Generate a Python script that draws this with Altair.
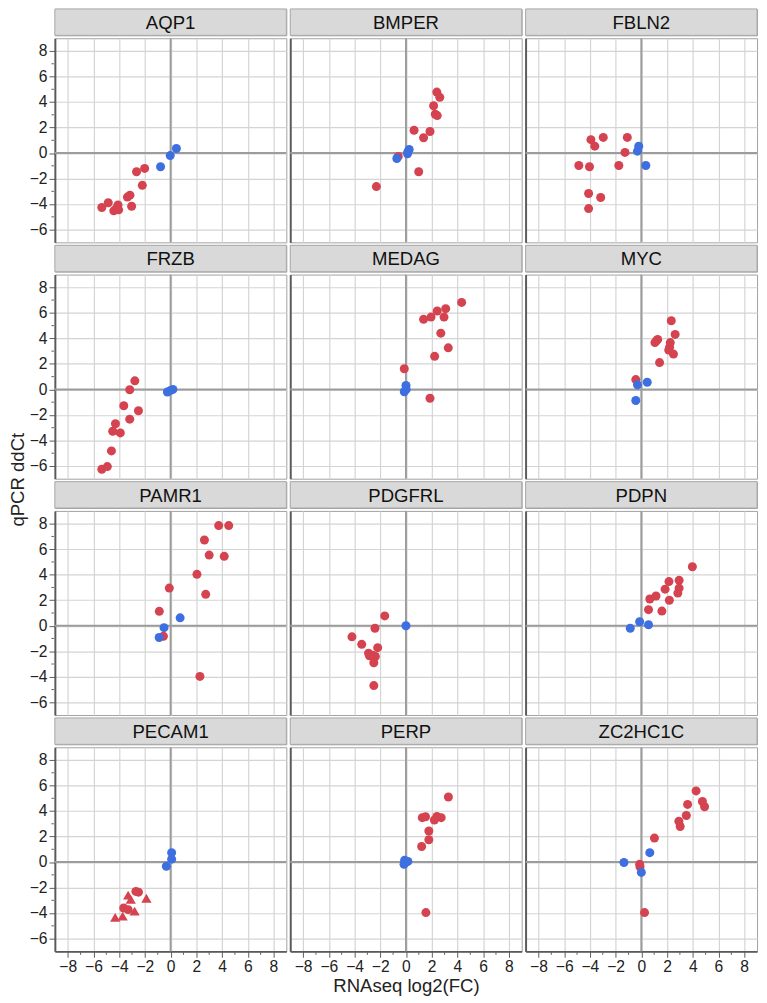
import altair as alt
import pandas as pd

FONT = "Liberation Sans"
RED = "#d4434f"
BLUE = "#3d6fe0"

GENES = ["AQP1", "BMPER", "FBLN2", "FRZB", "MEDAG", "MYC",
         "PAMR1", "PDGFRL", "PDPN", "PECAM1", "PERP", "ZC2HC1C"]

X_TICKS = [-8, -6, -4, -2, 0, 2, 4, 6, 8]
Y_TICKS = [-6, -4, -2, 0, 2, 4, 6, 8]
X_MINOR = [-7, -5, -3, -1, 1, 3, 5, 7]
Y_MINOR = [-5, -3, -1, 1, 3, 5, 7]
ZERO = [0]

AQP1_RED = [(-5.35, -4.27), (-4.85, -3.89), (-4.42, -4.53), (-4.09, -4.07), (-4.04, -4.45),
            (-4.2, -4.3), (-3.36, -3.45), (-3.16, -3.3), (-3.03, -4.17), (-2.65, -1.46),
            (-2.2, -2.53), (-2.02, -1.2)]
AQP1_BLUE = [(-0.78, -1.07), (-0.03, -0.2), (0.45, 0.36)]

BMPER_RED = [(2.4, 4.78), (2.63, 4.37), (2.15, 3.71), (2.28, 3.04), (2.43, 2.94), (0.63, 1.79),
             (1.87, 1.69), (1.37, 1.2), (0.99, -1.46), (-2.3, -2.63), (-0.6, -0.26)]
BMPER_BLUE = [(-0.71, -0.43), (0.12, -0.05), (0.25, 0.28), (0.15, 0.1)]

FBLN2_RED = [(-3.92, 1.05), (-2.96, 1.23), (-1.09, 1.23), (-3.62, 0.54), (-1.27, 0.05),
             (-4.86, -0.97), (-4.03, -1.07), (-1.75, -0.97), (-4.1, -3.17), (-3.16, -3.48),
             (-4.1, -4.35)]
FBLN2_BLUE = [(-0.2, 0.54), (-0.3, 0.15), (0.35, -0.97)]

FRZB_RED = [(-2.78, 0.67), (-3.18, -0.03), (-3.64, -1.28), (-2.5, -1.67), (-3.18, -2.33),
            (-4.29, -2.69), (-4.5, -3.28), (-3.91, -3.41), (-4.6, -4.82), (-4.92, -6.05),
            (-5.35, -6.26)]
FRZB_BLUE = [(-0.25, -0.2), (0.0, -0.08), (0.18, 0.0)]

MEDAG_RED = [(4.33, 6.82), (3.09, 6.33), (2.43, 6.15), (1.95, 5.67), (1.37, 5.49), (2.96, 5.67),
             (2.71, 4.41), (3.29, 3.26), (2.23, 2.59), (-0.13, 1.62), (1.87, -0.69)]
MEDAG_BLUE = [(0.0, 0.31), (-0.13, -0.18), (0.02, 0.0)]

MYC_RED = [(2.33, 5.38), (2.63, 4.31), (1.27, 3.92), (1.17, 3.8), (1.06, 3.67), (2.25, 3.67),
           (2.2, 3.3), (2.13, 3.08), (2.5, 2.77), (1.42, 2.1), (-0.43, 0.77)]
MYC_BLUE = [(-0.3, 0.36), (0.46, 0.56), (-0.43, -0.87)]

PAMR1_RED = [(3.74, 7.85), (4.52, 7.85), (2.63, 6.72), (3.0, 5.54), (4.17, 5.44), (2.05, 4.03),
             (-0.1, 2.95), (2.73, 2.46), (-0.88, 1.13), (-0.56, -0.82), (2.28, -3.97)]
PAMR1_BLUE = [(0.74, 0.62), (-0.51, -0.15), (-0.89, -0.92)]

PDGFRL_RED = [(-1.65, 0.77), (-2.41, -0.2), (-4.2, -0.87), (-3.44, -1.46), (-2.2, -1.72),
              (-2.91, -2.15), (-2.84, -2.36), (-2.58, -2.31), (-2.38, -2.41), (-2.5, -2.9),
              (-2.5, -4.69)]
PDGFRL_BLUE = [(0.0, 0.0)]

PDPN_RED = [(3.97, 4.62), (2.15, 3.46), (2.94, 3.56), (1.85, 2.87), (2.94, 2.95), (2.84, 2.56),
            (1.14, 2.33), (0.66, 2.1), (2.18, 2.0), (0.56, 1.26), (1.6, 1.15)]
PDPN_BLUE = [(-0.13, 0.31), (0.56, 0.08), (-0.86, -0.2)]

PECAM1_RED = [(-3.65, -3.6), (-3.3, -3.73), (-2.5, -2.36), (-2.7, -2.3)]
PECAM1_TRI = [(-4.31, -4.34), (-3.73, -4.24), (-3.3, -2.59), (-3.1, -2.92), (-2.8, -3.85),
              (-1.88, -2.84)]
PECAM1_BLUE = [(0.08, 0.74), (0.08, 0.23), (-0.33, -0.33)]

PERP_RED = [(3.3, 5.1), (1.27, 3.48), (1.52, 3.55), (2.41, 3.58), (2.74, 3.48), (2.21, 3.3),
            (1.78, 2.44), (1.78, 1.75), (1.22, 1.22), (1.55, -3.96)]
PERP_BLUE = [(-0.1, 0.15), (0.15, 0.05), (-0.15, -0.18), (0.0, 0.0)]

ZC2HC1C_RED = [(4.26, 5.58), (4.75, 4.75), (4.92, 4.34), (3.6, 4.52), (3.5, 3.65), (2.92, 3.2),
               (3.02, 2.79), (1.02, 1.88), (-0.13, -0.18), (-0.1, -0.38), (0.25, -3.96)]
ZC2HC1C_BLUE = [(0.66, 0.74), (-1.35, -0.03), (0.0, -0.81)]

SERIES = {
    "AQP1": (AQP1_RED, [], AQP1_BLUE),
    "BMPER": (BMPER_RED, [], BMPER_BLUE),
    "FBLN2": (FBLN2_RED, [], FBLN2_BLUE),
    "FRZB": (FRZB_RED, [], FRZB_BLUE),
    "MEDAG": (MEDAG_RED, [], MEDAG_BLUE),
    "MYC": (MYC_RED, [], MYC_BLUE),
    "PAMR1": (PAMR1_RED, [], PAMR1_BLUE),
    "PDGFRL": (PDGFRL_RED, [], PDGFRL_BLUE),
    "PDPN": (PDPN_RED, [], PDPN_BLUE),
    "PECAM1": (PECAM1_RED, PECAM1_TRI, PECAM1_BLUE),
    "PERP": (PERP_RED, [], PERP_BLUE),
    "ZC2HC1C": (ZC2HC1C_RED, [], ZC2HC1C_BLUE),
}

W = 237
H = 209
HS = 27

XS = alt.Scale(domain=[-9, 9], nice=False, zero=False)
YS = alt.Scale(domain=[-7, 9], nice=False, zero=False)


def pts_df(lst):
    return pd.DataFrame({"x": [p[0] for p in lst], "y": [p[1] for p in lst]})


def panel(gene, col, row):
    red, tri, blue = SERIES[gene]
    left = col == 0
    bottom = row == 3
    xaxis = alt.Axis(values=X_TICKS, grid=True, labels=bottom, ticks=bottom, domain=bottom,
                     title="RNAseq log2(FC)" if (bottom and col == 1) else None)
    yaxis = alt.Axis(values=Y_TICKS, grid=True, labels=left, ticks=left, domain=True, title=None)

    layers = []
    zdf = pd.DataFrame({"v": ZERO})
    layers.append(alt.Chart(zdf).mark_rule(color="#9c9c9c", strokeWidth=2).encode(
        x=alt.X("v:Q", scale=XS, axis=xaxis)))
    layers.append(alt.Chart(zdf).mark_rule(color="#9c9c9c", strokeWidth=2).encode(
        y=alt.Y("v:Q", scale=YS, axis=yaxis)))
    if left:
        layers.append(alt.Chart(pd.DataFrame({"v": Y_MINOR})).mark_rule(
            color="#5a5a5a", strokeWidth=1).encode(
            y=alt.Y("v:Q", scale=YS, axis=yaxis), x=alt.value(-3.5), x2=alt.value(-1)))
    if bottom:
        layers.append(alt.Chart(pd.DataFrame({"v": X_MINOR})).mark_rule(
            color="#5a5a5a", strokeWidth=1).encode(
            x=alt.X("v:Q", scale=XS, axis=xaxis), y=alt.value(H + 1), y2=alt.value(H + 3.5)))
    layers.append(alt.Chart(pts_df(red)).mark_point(
        filled=True, opacity=1, size=85, shape="circle", color=RED, strokeWidth=0).encode(
        x=alt.X("x:Q", scale=XS, axis=xaxis), y=alt.Y("y:Q", scale=YS, axis=yaxis)))
    if tri:
        layers.append(alt.Chart(pts_df(tri)).mark_point(
            filled=True, opacity=1, size=110, shape="triangle-up", color=RED, strokeWidth=0).encode(
            x=alt.X("x:Q", scale=XS, axis=xaxis), y=alt.Y("y:Q", scale=YS, axis=yaxis)))
    layers.append(alt.Chart(pts_df(blue)).mark_point(
        filled=True, opacity=1, size=85, shape="circle", color=BLUE, strokeWidth=0).encode(
        x=alt.X("x:Q", scale=XS, axis=xaxis), y=alt.Y("y:Q", scale=YS, axis=yaxis)))
    plot = alt.layer(*layers).properties(width=W, height=H)

    gdf = pd.DataFrame({"g": [gene]})
    rect = alt.Chart(gdf).mark_rect(fill="#d9d9d9", stroke="#a8a8a8", strokeWidth=1).encode(
        x=alt.value(0), x2=alt.value(W), y=alt.value(0), y2=alt.value(HS))
    txt = alt.Chart(gdf).mark_text(fontSize=19, font=FONT, color="#111").encode(
        text="g:N", x=alt.value(W / 2), y=alt.value(HS / 2 + 1))
    strip = alt.layer(rect, txt).properties(width=W, height=HS)
    return alt.vconcat(strip, plot, spacing=0)


rows = []
for r in range(4):
    rows.append(alt.hconcat(*[panel(GENES[r * 3 + c], c, r) for c in range(3)], spacing=0))
grid = alt.vconcat(*rows, spacing=0)

TOTAL_H = 4 * (H + HS)
ytitle = alt.Chart(pd.DataFrame({"t": ["qPCR ddCt"]})).mark_text(
    angle=270, fontSize=19, font=FONT, color="#222").encode(
    text="t:N", x=alt.value(7), y=alt.value(TOTAL_H / 2 + 10)).properties(
    width=12, height=TOTAL_H, view=alt.ViewBackground(stroke="transparent"))

chart = alt.hconcat(ytitle, grid, spacing=0).properties(
    padding={"left": 0, "top": -12, "right": 0, "bottom": 0})

chart = chart.configure_view(stroke="#a0a0a0", strokeWidth=1).configure_axis(
    labelFont=FONT, labelFontSize=16, labelColor="#222", labelPadding=2,
    titleFont=FONT, titleFontSize=19, titleFontWeight="normal", titleColor="#222", titlePadding=2,
    gridColor="#d4d4d4", gridWidth=1.2,
    domainColor="#5a5a5a", domainWidth=2, tickColor="#5a5a5a", tickWidth=1, tickSize=6
).configure_text(font=FONT)

chart.save("out.html", embed_options={"renderer": "svg", "actions": False})
